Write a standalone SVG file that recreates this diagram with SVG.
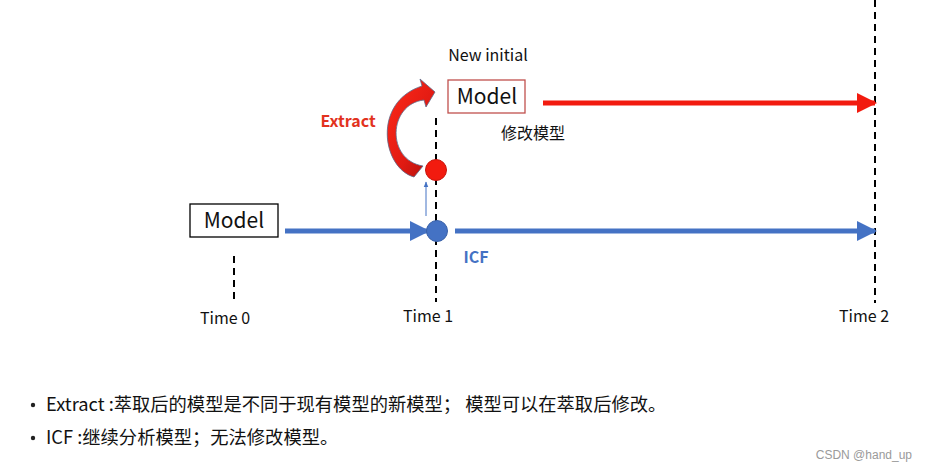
<svg xmlns="http://www.w3.org/2000/svg" width="927" height="471" viewBox="0 0 927 471">
<style>
.t{font-family:"Noto Sans CJK SC","Noto Sans",sans-serif;fill:#111}
.dash{stroke:#000;stroke-width:2;stroke-dasharray:7 5;fill:none}
.blue{stroke:#4472C4;stroke-width:5;fill:none}
.red{stroke:#F21B0F;stroke-width:5;fill:none}
</style>
<defs>
<marker id="hb" viewBox="0 0 10 10" refX="9" refY="5" markerWidth="4" markerHeight="4" orient="auto" markerUnits="strokeWidth"><path d="M0,0 L10,5 L0,10 Z" fill="#4472C4"/></marker>
<marker id="hr" viewBox="0 0 10 10" refX="9" refY="5" markerWidth="4" markerHeight="4" orient="auto" markerUnits="strokeWidth"><path d="M0,0 L10,5 L0,10 Z" fill="#F21B0F"/></marker>
<marker id="ht" viewBox="0 0 10 10" refX="9" refY="5" markerWidth="6" markerHeight="6" orient="auto" markerUnits="userSpaceOnUse"><path d="M0,1 L10,5 L0,9 Z" fill="#4472C4"/></marker>
<linearGradient id="cg" x1="0" y1="0" x2="1" y2="1">
<stop offset="0" stop-color="#ff2a1a"/><stop offset="0.6" stop-color="#e01a12"/><stop offset="1" stop-color="#a8100c"/>
</linearGradient>
</defs>

<g id="timelines">
<line class="dash" x1="234" y1="256" x2="234" y2="300"/>
<line class="dash" x1="436" y1="118" x2="436" y2="302"/>
<line class="dash" x1="875" y1="0" x2="875" y2="303"/>
<text class="t" x="225" y="324" font-size="16" text-anchor="middle">Time 0</text>
<text class="t" x="428" y="322" font-size="16" text-anchor="middle">Time 1</text>
<text class="t" x="864" y="322" font-size="16" text-anchor="middle">Time 2</text>
</g>

<g id="connectors">
<line class="blue" x1="285" y1="231" x2="428" y2="231" marker-end="url(#hb)"/>
<line class="blue" x1="455" y1="231" x2="875" y2="231" marker-end="url(#hb)"/>
<line class="red" x1="543" y1="103" x2="875" y2="103" marker-end="url(#hr)"/>
<line x1="426" y1="216" x2="426" y2="182" stroke="#4472C4" stroke-width="1" marker-end="url(#ht)"/>
<path id="extract-arrow" d="M414,177 C382,168 372,102 422,86 L420,79 L435,92 L426,107 L424,100 C388,104 386,160 423,166 Z" fill="url(#cg)" stroke="#5d6b8c" stroke-width="0.8"/>
</g>

<g id="model0">
<rect x="190" y="204" width="88" height="33" fill="#fff" stroke="#000" stroke-width="1.3"/>
<text class="t" x="234" y="228" font-size="21" text-anchor="middle">Model</text>
</g>

<g id="model1">
<text class="t" x="488" y="61" font-size="16" text-anchor="middle">New initial</text>
<rect x="448" y="80" width="77" height="33" fill="#fff" stroke="#C0504D" stroke-width="1.3"/>
<text class="t" x="487" y="104" font-size="21" text-anchor="middle">Model</text>
<text class="t" x="533" y="139" font-size="16" text-anchor="middle">修改模型</text>
</g>

<g id="icf-node">
<circle cx="437" cy="231" r="10.5" fill="#4472C4" stroke="#3a62a8" stroke-width="1"/>
<text x="476" y="263" font-size="16" font-weight="bold" fill="#4472C4" text-anchor="middle" font-family="Noto Sans CJK SC, Noto Sans, sans-serif">ICF</text>
</g>

<g id="extract-node">
<circle cx="436" cy="170" r="10.5" fill="#F21B0F" stroke="#c8150c" stroke-width="1"/>
<text x="348" y="127" font-size="16" font-weight="bold" fill="#E2321E" text-anchor="middle" font-family="Noto Sans CJK SC, Noto Sans, sans-serif">Extract</text>
</g>

<g id="notes">
<circle cx="33" cy="405" r="2.2" fill="#222"/>
<circle cx="33" cy="438" r="2.2" fill="#222"/>
<text class="t" x="46" y="411" font-size="18.3">Extract :萃取后的模型是不同于现有模型的新模型； 模型可以在萃取后修改。</text>
<text class="t" x="46" y="444" font-size="18.3">ICF :继续分析模型；无法修改模型。</text>
</g>

<text x="912" y="459" font-size="12" fill="#9a9a9a" text-anchor="end" font-family="Liberation Sans, Arial, sans-serif">CSDN @hand_up</text>
</svg>
